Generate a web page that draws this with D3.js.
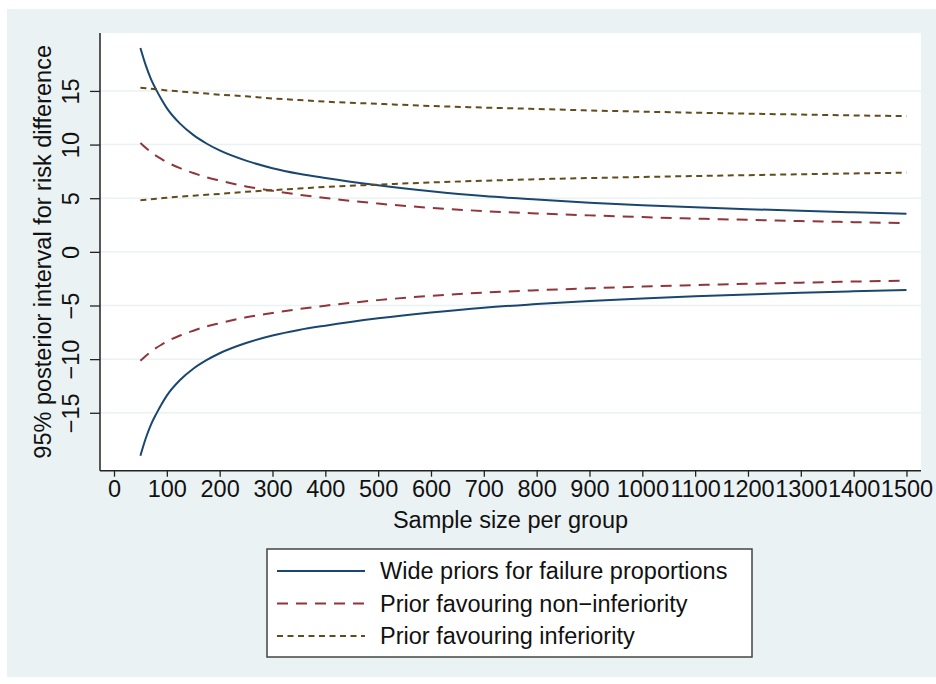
<html>
<head>
<meta charset="utf-8">
<script src="https://d3js.org/d3.v7.min.js"></script>
<style>
body{
  margin:0;
  padding:0;
  background:white;
  overflow:hidden;
  font-family:'Liberation Sans', Arial, Helvetica, sans-serif;
}
</style>
</head>
<body>
<div id="chart"></div>
<script>
// sample size per group
const sampleSize = [50, 60, 70, 80, 90, 100, 125, 150, 175, 200, 250, 300, 350, 400, 500, 600, 700, 800, 900, 1000, 1100, 1200, 1300, 1400, 1500];

// wide priors for failure proportions (upper / lower limit)
const wideUpper = [19.0, 17.4, 16.1, 15.1, 14.2, 13.4, 11.95, 10.9, 10.1, 9.45, 8.5, 7.8, 7.28, 6.88, 6.2, 5.65, 5.2, 4.87, 4.58, 4.35, 4.15, 3.98, 3.82, 3.68, 3.56];
const wideLower = [-19.0, -17.4, -16.1, -15.1, -14.2, -13.4, -11.95, -10.9, -10.1, -9.45, -8.5, -7.8, -7.28, -6.88, -6.2, -5.65, -5.2, -4.87, -4.58, -4.35, -4.15, -3.98, -3.82, -3.68, -3.56];

// prior favouring non-inferiority
const nonInfUpper = [10.15, 9.7, 9.3, 8.95, 8.65, 8.37, 7.8, 7.35, 6.95, 6.65, 6.1, 5.7, 5.33, 5.02, 4.5, 4.1, 3.8, 3.58, 3.4, 3.24, 3.1, 2.98, 2.87, 2.77, 2.68];
const nonInfLower = [-10.15, -9.7, -9.3, -8.95, -8.65, -8.37, -7.8, -7.35, -6.95, -6.65, -6.1, -5.7, -5.33, -5.02, -4.5, -4.1, -3.8, -3.58, -3.4, -3.24, -3.1, -2.98, -2.87, -2.77, -2.68];

// prior favouring inferiority
const infUpper = [15.3, 15.25, 15.2, 15.15, 15.1, 15.05, 14.95, 14.85, 14.75, 14.65, 14.5, 14.3, 14.15, 14.0, 13.8, 13.6, 13.45, 13.32, 13.18, 13.07, 12.97, 12.88, 12.8, 12.72, 12.65];
const infLower = [4.8, 4.85, 4.9, 4.95, 5.0, 5.05, 5.15, 5.23, 5.32, 5.4, 5.6, 5.75, 5.9, 6.05, 6.27, 6.47, 6.63, 6.77, 6.88, 6.98, 7.07, 7.15, 7.23, 7.31, 7.38];

const xTicks = d3.range(0, 1501, 100);
const yTicks = [-15, -10, -5, 0, 5, 10, 15];

const legendLabels = ["Wide priors for failure proportions", "Prior favouring non\u2212inferiority", "Prior favouring inferiority"];

const width = 936, height = 684;
const fontSize = 23.5;

//========== SVG =============
const svg = d3.select("#chart").append("svg")
    .attr("width", width).attr("height", height);

// graph region + plot region
svg.append("rect").attr("x", 7).attr("y", 9).attr("width", 929).attr("height", 668)
    .attr("fill", "#EAF2F3");

const plot = {left: 100, right: 921, top: 33, bottom: 470.7};

svg.append("rect")
    .attr("x", plot.left).attr("y", plot.top)
    .attr("width", plot.right - plot.left).attr("height", plot.bottom - plot.top)
    .attr("fill", "white");

const x = d3.scaleLinear().domain([-26.5, 1527.5]).range([plot.left, plot.right]);
const y = d3.scaleLinear().domain([-20.4, 20.4]).range([plot.bottom, plot.top]);

// gridlines
svg.append("g").selectAll("line").data(yTicks).enter().append("line")
    .attr("x1", plot.left).attr("x2", plot.right)
    .attr("y1", d => y(d)).attr("y2", d => y(d))
    .attr("stroke", "#EAF2F3").attr("stroke-width", 1.5);

//========== AXES =============
const yAxis = svg.append("g")
    .attr("transform", `translate(${plot.left},0)`)
    .call(d3.axisLeft(y).tickValues(yTicks).tickSize(10).tickSizeOuter(0).tickFormat(d3.format("d")));
yAxis.select(".domain").attr("d", `M0,${plot.top}V${plot.bottom}`);

const xAxis = svg.append("g")
    .attr("transform", `translate(0,${plot.bottom})`)
    .call(d3.axisBottom(x).tickValues(xTicks).tickSize(6).tickSizeOuter(0).tickFormat(d3.format("d")));
xAxis.select(".domain").attr("d", `M${plot.left},0H${plot.right}`);

svg.selectAll(".domain").attr("stroke", "#222").attr("stroke-width", 1.5);
svg.selectAll(".tick line").attr("stroke", "#222").attr("stroke-width", 1.3);
svg.selectAll(".tick text")
    .attr("font-family", "'Liberation Sans', Arial, sans-serif")
    .attr("font-size", fontSize).attr("fill", "#111");

// rotated y tick labels
yAxis.selectAll(".tick text")
    .attr("x", null).attr("dy", null)
    .attr("text-anchor", "middle")
    .attr("transform", "translate(-21,0) rotate(-90)");

xAxis.selectAll(".tick text").attr("y", 10).attr("dy", "0.71em");

// axis titles
svg.append("text")
    .attr("transform", `translate(51,${(plot.top + plot.bottom) / 2}) rotate(-90)`)
    .attr("text-anchor", "middle")
    .attr("font-size", fontSize).attr("fill", "#111")
    .text("95% posterior interval for risk difference");

svg.append("text")
    .attr("x", (plot.left + plot.right) / 2).attr("y", 528)
    .attr("text-anchor", "middle")
    .attr("font-size", fontSize).attr("fill", "#111")
    .text("Sample size per group");

//========== LINES =============
const series = [
  {vals: wideUpper, color: "#1A476F", dash: null},
  {vals: wideLower, color: "#1A476F", dash: null},
  {vals: nonInfUpper, color: "#90353B", dash: "11,8"},
  {vals: nonInfLower, color: "#90353B", dash: "11,8"},
  {vals: infUpper, color: "#634C1C", dash: "6,4.5"},
  {vals: infLower, color: "#634C1C", dash: "6,4.5"}
];

const line = d3.line()
    .x((d, i) => x(sampleSize[i]))
    .y(d => y(d))
    .curve(d3.curveMonotoneX);

svg.append("g").selectAll("path").data(series).enter().append("path")
    .attr("d", d => line(d.vals))
    .attr("fill", "none")
    .attr("stroke", d => d.color)
    .attr("stroke-width", 2)
    .attr("stroke-dasharray", d => d.dash);

//========== LEGEND =============
const legend = svg.append("g");
legend.append("rect")
    .attr("x", 267).attr("y", 549).attr("width", 485).attr("height", 108)
    .attr("fill", "white").attr("stroke", "#444").attr("stroke-width", 1.5);

const legendStyles = [series[0], series[2], series[4]];
const rows = legend.selectAll("g.row").data(legendLabels).enter().append("g")
    .attr("class", "row")
    .attr("transform", (d, i) => `translate(0,${571 + i * 32.5})`);

rows.append("line")
    .attr("x1", 277).attr("x2", 365)
    .attr("stroke", (d, i) => legendStyles[i].color)
    .attr("stroke-width", 2)
    .attr("stroke-dasharray", (d, i) => legendStyles[i].dash);

rows.append("text")
    .attr("x", 380).attr("dy", "0.35em")
    .attr("font-size", fontSize).attr("fill", "#111")
    .text(d => d);
</script>
</body>
</html>
